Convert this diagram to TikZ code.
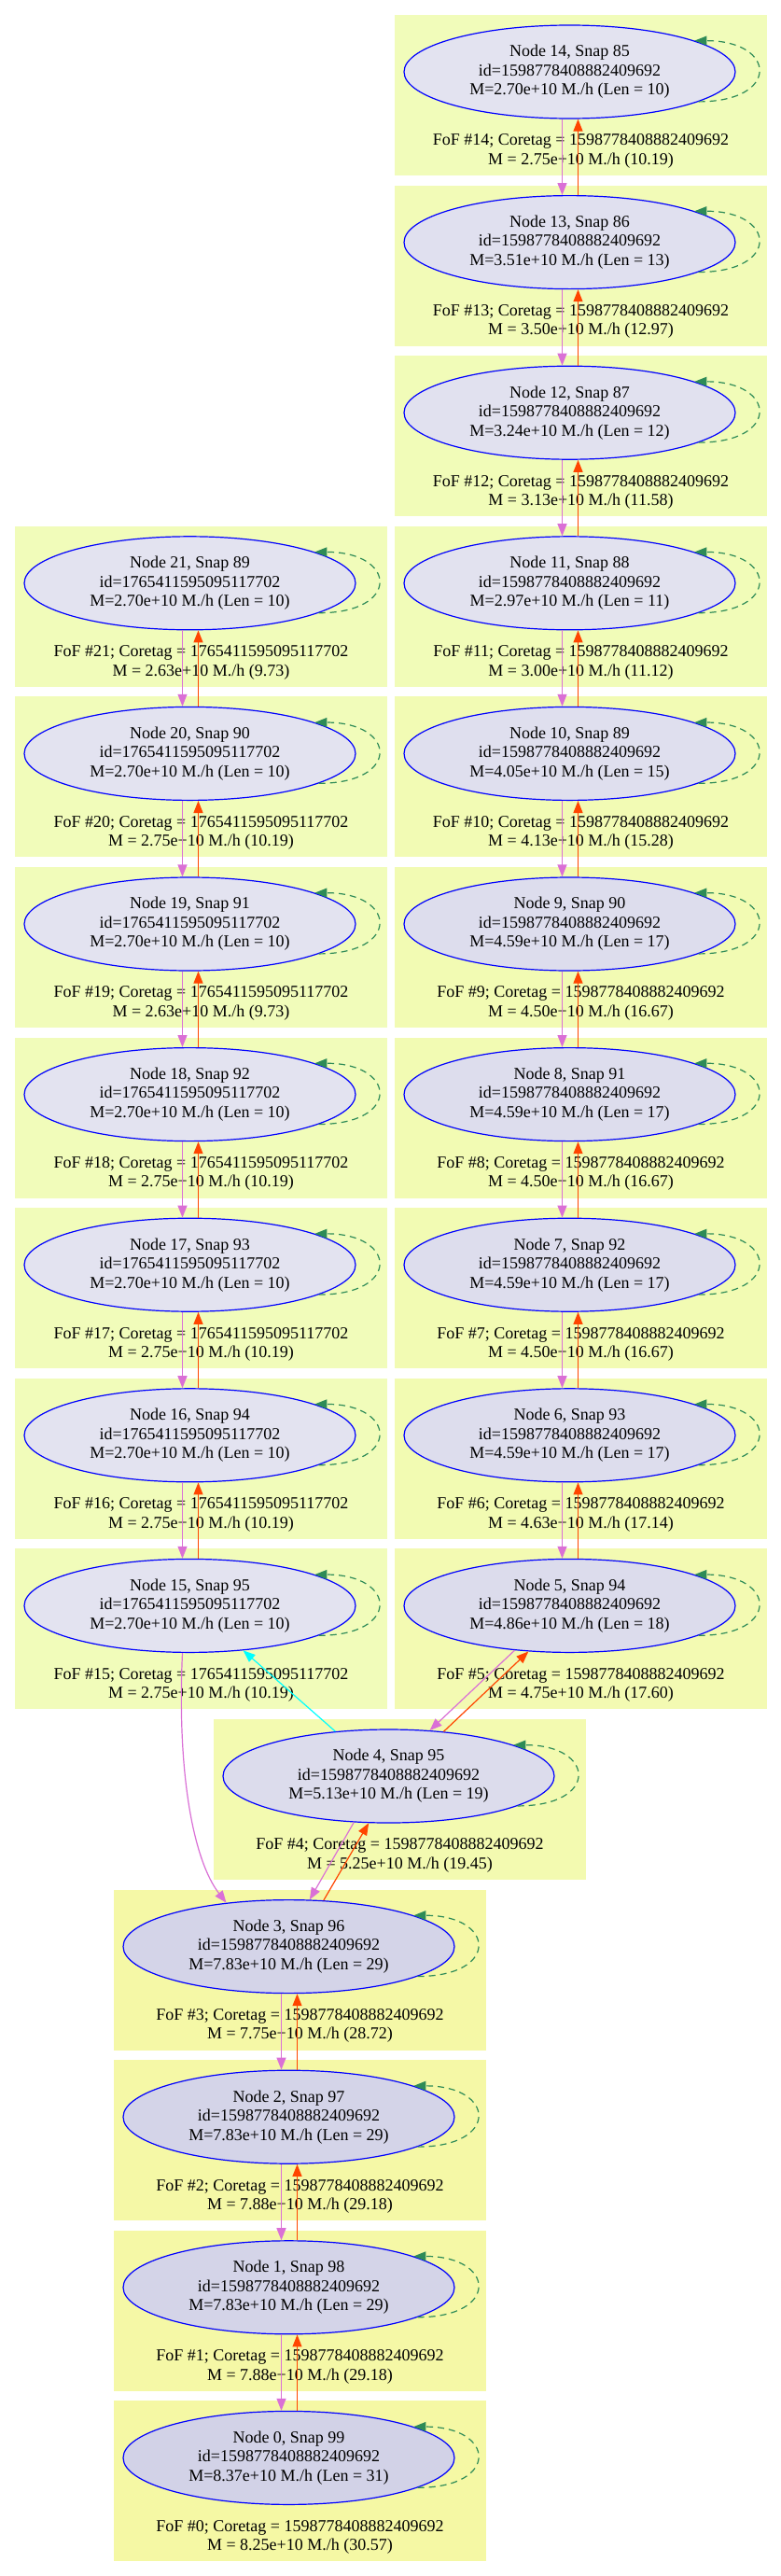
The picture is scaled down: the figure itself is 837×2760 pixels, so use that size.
\documentclass[tikz,border=0pt]{standalone}
\usepackage{fontspec}
\setmainfont{Liberation Serif}
\usetikzlibrary{arrows.meta,shapes.geometric}
\definecolor{boxlo}{HTML}{F1FCBA}
\definecolor{boxhi}{HTML}{F5F8A4}
\definecolor{elllo}{HTML}{E3E3F0}
\definecolor{ellhi}{HTML}{D2D2E7}
\definecolor{orchid}{HTML}{DA70D6}
\definecolor{orangered}{HTML}{FF4500}
\definecolor{seagrn}{HTML}{2E8B57}
\definecolor{aqua}{HTML}{00FFFF}
\newcommand{\ida}{1598778408882409692}
\newcommand{\idb}{1765411595095117702}

\begin{document}
\begin{tikzpicture}[x=1pt,y=-1pt,
  font=\fontsize{18}{20.5}\selectfont,
  clus/.style={inner sep=0,minimum width=399pt,minimum height=172pt},
  halo/.style={ellipse,draw=blue,line width=1.2pt,inner sep=0,align=center,
               minimum width=355pt,minimum height=100pt},
  lbl/.style={align=center,inner sep=0},
  ar/.style={-{Triangle[length=13pt,width=10pt]}},
  desc/.style={ar,draw=orchid,line width=1.2pt},
  prog/.style={ar,draw=orangered,line width=1.2pt},
  xlink/.style={ar,draw=aqua,line width=1.2pt},
  selfl/.style={ar,draw=seagrn,line width=1.2pt,dash pattern=on 7pt off 5pt}]
\path[use as bounding box,fill=white] (0,0) rectangle (837,2760);
% halo / fof boxes: node, box centre x, row, snap, id, M, len, M_fof, ratio, shade
\foreach \n/\bx/\row/\snap/\id/\m/\len/\fm/\fr/\pe/\pb in {
  14/622.5/0/85/\ida/2.70/10/2.75/10.19/1/2,
  13/622.5/1/86/\ida/3.51/13/3.50/12.97/15/15,
  12/622.5/2/87/\ida/3.24/12/3.13/11.58/11/9,
  11/622.5/3/88/\ida/2.97/11/3.00/11.12/6/7,
  10/622.5/4/89/\ida/4.05/15/4.13/15.28/25/27,
  9/622.5/5/90/\ida/4.59/17/4.50/16.67/34/33,
  8/622.5/6/91/\ida/4.59/17/4.50/16.67/34/33,
  7/622.5/7/92/\ida/4.59/17/4.50/16.67/34/33,
  6/622.5/8/93/\ida/4.59/17/4.63/17.14/34/36,
  5/622.5/9/94/\ida/4.86/18/4.75/17.60/39/38,
  4/428.5/10/95/\ida/5.13/19/5.25/19.45/44/47,
  3/321.5/11/96/\ida/7.83/29/7.75/28.72/91/91,
  2/321.5/12/97/\ida/7.83/29/7.88/29.18/91/93,
  1/321.5/13/98/\ida/7.83/29/7.88/29.18/91/93,
  0/321.5/14/99/\ida/8.37/31/8.25/30.57/100/100,
  21/215.5/3/89/\idb/2.70/10/2.63/9.73/1/0,
  20/215.5/4/90/\idb/2.70/10/2.75/10.19/1/2,
  19/215.5/5/91/\idb/2.70/10/2.63/9.73/1/0,
  18/215.5/6/92/\idb/2.70/10/2.75/10.19/1/2,
  17/215.5/7/93/\idb/2.70/10/2.75/10.19/1/2,
  16/215.5/8/94/\idb/2.70/10/2.75/10.19/1/2,
  15/215.5/9/95/\idb/2.70/10/2.75/10.19/1/2}{
  \pgfmathsetmacro\ty{16+\row*182.6}
  \node[clus,fill=boxhi!\pb!boxlo] (c\n) at (\bx,\ty+86) {};
  \node[halo,fill=ellhi!\pe!elllo] (e\n) at (\bx-12,\ty+61)
    {Node \n, Snap \snap\\id=\id\\M=\m e+10 M./h (Len = \len)};
  \node[lbl] (l\n) at (\bx,\ty+146) {FoF \#\n; Coretag = \id\\M = \fm e+10 M./h (\fr)};
  \draw[selfl] (e\n.-13) .. controls +(88,0) and +(88,0) .. (e\n.14);
}
% main branches
\foreach \a/\b in {14/13,13/12,12/11,11/10,10/9,9/8,8/7,7/6,6/5,
                   21/20,20/19,19/18,18/17,17/16,16/15,3/2,2/1,1/0}{
  \draw[desc] ([xshift=-8pt]e\a.south) -- ([xshift=-8pt]e\b.north);
  \draw[prog] ([xshift=9pt]e\b.north) -- ([xshift=9pt]e\a.south);
}
\draw[desc] (e5.219) -- (e4.48);
\draw[prog] (e4.39) -- (e5.228);
\draw[desc] (e4.233) -- (e3.66);
\draw[prog] (e3.53) -- (e4.247);
\draw[xlink] (e4.140) -- (e15.-40);
\draw[desc] ([xshift=-8pt]e15.south) .. controls +(-6,130) and +(-35,-45) .. (e3.145);
\end{tikzpicture}
\end{document}
